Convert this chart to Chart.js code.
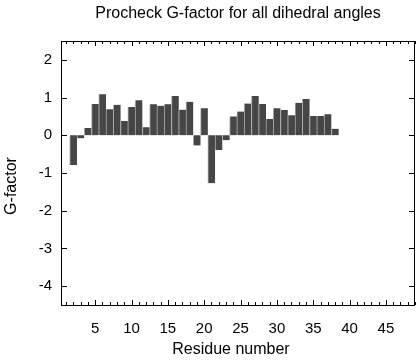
<!DOCTYPE html>
<html lang="en">
<head>
<meta charset="UTF-8">
<title>Procheck G-factor</title>
<script src="https://cdn.jsdelivr.net/npm/chart.js"></script>
<style>
    body { margin: 0; background: #fff; }
    #grafico { display: block; }
</style>
</head>
<body>
<canvas id="grafico" width="416" height="360"></canvas>
<script>
    // residue 1 has no value in the plot
    const residues = [2, 3, 4, 5, 6, 7, 8, 9, 10, 11, 12, 13, 14, 15, 16, 17, 18, 19, 20,
        21, 22, 23, 24, 25, 26, 27, 28, 29, 30, 31, 32, 33, 34, 35, 36, 37, 38]
    const gFactor = [-0.79, -0.08, 0.19, 0.83, 1.09, 0.69, 0.81, 0.38, 0.75, 0.93, 0.21,
        0.82, 0.78, 0.82, 1.04, 0.68, 0.89, -0.27, 0.72, -1.27, -0.39, -0.13, 0.50, 0.63,
        0.84, 1.04, 0.83, 0.43, 0.72, 0.67, 0.53, 0.86, 0.96, 0.51, 0.51, 0.56, 0.17]
    const xTicks = [5, 10, 15, 20, 25, 30, 35, 40, 45]
    const yTicks = [-4, -3, -2, -1, 0, 1, 2]

    const fonte = 'Liberation Sans, Arial, Helvetica, sans-serif'

    // frame + inward ticks + axis titles, like the original plot
    const moldura = {
        id: 'moldura',
        afterDraw(chart) {
            const ctx = chart.ctx
            const area = chart.chartArea
            const x = chart.scales.x
            const y = chart.scales.y
            ctx.save()
            ctx.strokeStyle = '#000'
            ctx.lineWidth = 1
            ctx.beginPath()
            for (let v = Math.ceil(x.min); v <= x.max; v++) {
                const px = Math.round(x.getPixelForValue(v)) + 0.5
                const len = v % 5 == 0 ? 5 : 3
                ctx.moveTo(px, area.bottom)
                ctx.lineTo(px, area.bottom - len)
                ctx.moveTo(px, area.top)
                ctx.lineTo(px, area.top + len)
            }
            for (const v of yTicks) {
                const py = Math.round(y.getPixelForValue(v)) + 0.5
                ctx.moveTo(area.left, py)
                ctx.lineTo(area.left + 6, py)
                ctx.moveTo(area.right, py)
                ctx.lineTo(area.right - 6, py)
            }
            ctx.stroke()
            ctx.strokeRect(Math.round(area.left) + 0.5, Math.round(area.top) + 0.5,
                Math.round(area.right - area.left) - 1, Math.round(area.bottom - area.top))

            ctx.fillStyle = '#000'
            ctx.font = '16px ' + fonte
            ctx.textAlign = 'center'
            ctx.textBaseline = 'middle'
            ctx.fillText('Residue number', 231, 350)
            ctx.translate(12, 186)
            ctx.rotate(-Math.PI / 2)
            ctx.fillText('G-factor', 0, 0)
            ctx.restore()
        }
    }

    const dados = {
        datasets: [{
            data: residues.map((r, i) => ({ x: r, y: gFactor[i] })),
            backgroundColor: '#464646',
            borderColor: '#a8a8a8',
            borderWidth: { left: 1, right: 0, top: 0, bottom: 0 },
            barPercentage: 1,
            categoryPercentage: 1
        }]
    }

    const opcoes = {
        responsive: false,
        animation: false,
        layout: { padding: { left: 0, right: 1, top: 0, bottom: 0 } },
        plugins: {
            legend: { display: false },
            tooltip: { enabled: false },
            title: {
                display: true,
                text: 'Procheck G-factor for all dihedral angles',
                fullSize: false,
                color: '#000',
                font: { family: fonte, size: 16, weight: 'normal' },
                padding: { top: 4, bottom: 17.8 }
            }
        },
        scales: {
            x: {
                type: 'linear',
                offset: false,
                min: 0.3,
                max: 49,
                afterBuildTicks: s => { s.ticks = xTicks.map(v => ({ value: v })) },
                afterFit: s => { s.height = 55 },
                grid: { display: false, drawTicks: false },
                border: { display: false },
                ticks: { color: '#000', padding: 15, maxRotation: 0, font: { family: fonte, size: 15 } }
            },
            y: {
                min: -4.5,
                max: 2.5,
                afterBuildTicks: s => { s.ticks = yTicks.map(v => ({ value: v })) },
                afterFit: s => { s.width = 61 },
                grid: { display: false, drawTicks: false },
                border: { display: false },
                ticks: { color: '#000', padding: 9, font: { family: fonte, size: 15 } }
            }
        }
    }

    new Chart(document.getElementById('grafico'), {
        type: 'bar',
        data: dados,
        options: opcoes,
        plugins: [moldura]
    })
</script>
</body>
</html>
